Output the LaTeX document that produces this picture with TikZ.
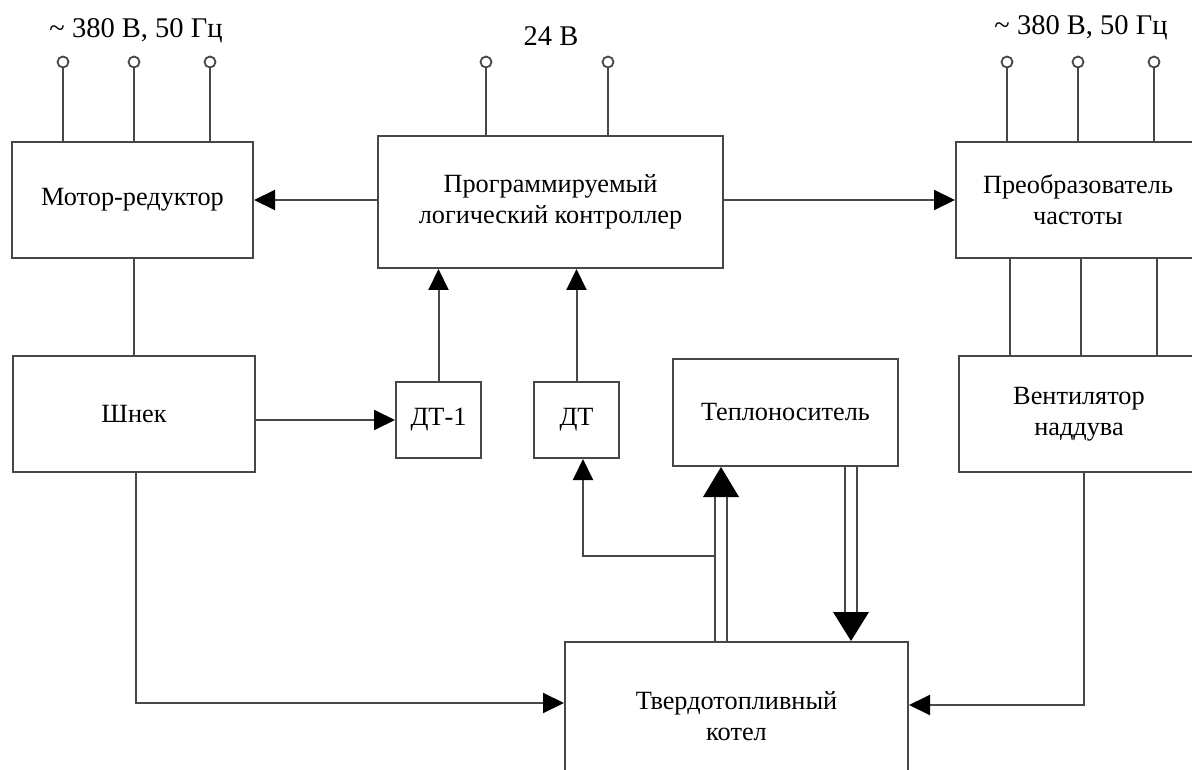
\documentclass[tikz,border=0pt]{standalone}
\usepackage{fontspec}
\setmainfont{Liberation Serif}
\usetikzlibrary{arrows.meta}
\begin{document}
\begin{tikzpicture}[x=1pt,y=-1pt,
  ln/.style={draw=black!72, line width=2pt},
  box/.style={ln, rectangle, align=center, inner sep=0pt, font=\fontsize{26.3}{31}\selectfont},
  term/.style={ln, circle, fill=white, minimum size=11pt, inner sep=0pt, line width=1.8pt},
  lbl/.style={inner sep=0pt, font=\fontsize{28.5}{32}\selectfont},
  arr/.style={ln, -{Triangle[length=21pt,width=20pt,black]}},
  bigtip/.style={fill=black}]
\clip (0,0) rectangle (1192,770);
\fill[white] (0,0) rectangle (1192,770);

% boxes
\node[box, minimum width=241pt, minimum height=116pt] (mot) at (132.5,200) {Мотор-редуктор};
\node[box, minimum width=345pt, minimum height=132pt] (plc) at (550.5,202) {Программируемый\\логический контроллер};
\node[box, minimum width=244pt, minimum height=116pt] (prb) at (1078,200) {Преобразователь\\частоты};
\node[box, minimum width=242pt, minimum height=116pt] (shn) at (134,414) {Шнек};
\node[box, minimum width=85pt, minimum height=76pt] (dt1) at (438.5,420) {ДТ-1};
\node[box, minimum width=85pt, minimum height=76pt] (dt) at (576.5,420) {ДТ};
\node[box, minimum width=225pt, minimum height=107pt] (tep) at (785.5,412.5) {Теплоноситель};
\node[box, minimum width=240pt, minimum height=116pt] (ven) at (1079,414) {Вентилятор\\наддува};
\node[box, minimum width=343pt, minimum height=148pt] (boil) at (736.5,716) {Твердотопливный\\котел};

% labels
\node[lbl] (lblL) at (136,31) {\textasciitilde{} 380 В, 50 Гц};
\node[lbl] (lblM) at (551,36) {24 В};
\node[lbl] (lblR) at (1081,28) {\textasciitilde{} 380 В, 50 Гц};

% terminals
\node[term] (a1) at (63,62) {};
\node[term] (a2) at (134,62) {};
\node[term] (a3) at (210,62) {};
\node[term] (b1) at (486,62) {};
\node[term] (b2) at (608,62) {};
\node[term] (c1) at (1007,62) {};
\node[term] (c2) at (1078,62) {};
\node[term] (c3) at (1154,62) {};
\foreach \t in {a1,a2,a3} \draw[ln] (\t.south) -- (\t |- mot.north);
\foreach \t in {b1,b2} \draw[ln] (\t.south) -- (\t |- plc.north);
\foreach \t in {c1,c2,c3} \draw[ln] (\t.south) -- (\t |- prb.north);

% PLC outputs
\draw[arr] (plc.west |- mot.east) -- (mot.east);
\draw[arr] (plc.east |- prb.west) -- (prb.west);

% motor - auger
\draw[ln] (shn.north) -- (shn.north |- mot.south);

% converter - fan
\coordinate (v1) at (1010,300);
\coordinate (v2) at (1081,300);
\coordinate (v3) at (1157,300);
\foreach \v in {v1,v2,v3} \draw[ln] (\v |- prb.south) -- (\v |- ven.north);

% sensors
\draw[arr] (shn.east |- dt1.west) -- (dt1.west);
\draw[arr] (dt1.north) -- (dt1.north |- plc.south);
\draw[arr] (dt.north) -- (dt.north |- plc.south);

% feed lines to boiler
\coordinate (bl) at (136,703);
\draw[arr] (shn.south -| bl) -- (bl) -- (bl -| boil.west);
\coordinate (bR) at (1084,705);
\draw[arr] (bR |- ven.south) -- (bR) -- (bR -| boil.east);

% double arrow up (boiler -> heat carrier)
\coordinate (ub) at (721,497);
\coordinate (uL) at (715,497);
\coordinate (uR) at (727,497);
\draw[ln] (uL |- boil.north) -- (uL);
\draw[ln] (uR |- boil.north) -- (uR);
\fill[bigtip] ([xshift=-18pt]ub) -- ([xshift=18pt]ub) -- (ub |- tep.south) -- cycle;

% double arrow down (heat carrier -> boiler)
\coordinate (db) at (851,612);
\coordinate (dL) at (845,612);
\coordinate (dR) at (857,612);
\draw[ln] (dL |- tep.south) -- (dL);
\draw[ln] (dR |- tep.south) -- (dR);
\fill[bigtip] ([xshift=-18pt]db) -- ([xshift=18pt]db) -- (db |- boil.north) -- cycle;

% branch to DT
\coordinate (br2) at (583,556);
\draw[arr] (uL |- br2) -- (br2) -- (br2 |- dt.south);
\end{tikzpicture}
\end{document}
